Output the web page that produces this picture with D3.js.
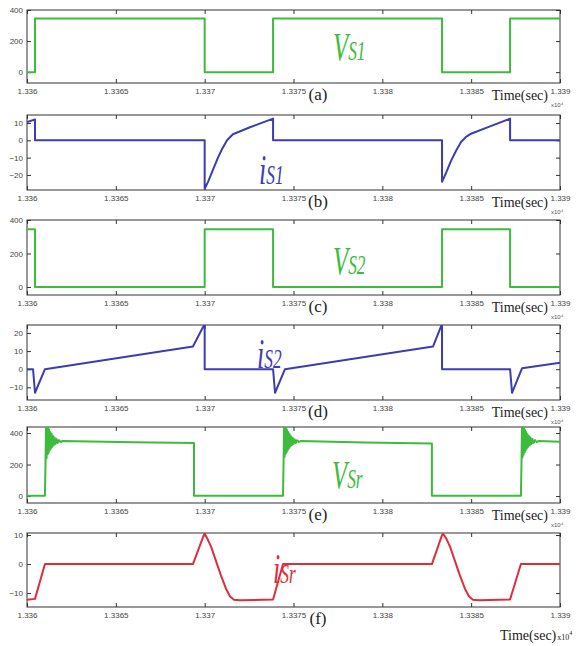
<!DOCTYPE html>
<html>
<head>
<meta charset="utf-8">
<script src="https://d3js.org/d3.v7.min.js"></script>
<style>
  body { margin: 0; background: #fff; }
  .tick text { font-family: "Liberation Sans Narrow", "Liberation Sans", sans-serif; font-size: 8px; fill: #444; }
  .tick line { stroke: #333; }
</style>
</head>
<body>
<script>
// tiempos en segundos, valores en V o A
var xTicks = [1.336, 1.3365, 1.337, 1.3375, 1.338, 1.3385, 1.339]
var xTickLabels = ["1.336", "1.3365", "1.337", "1.3375", "1.338", "1.3385", "1.339"]

var vs1 = [[1.336,0],[1.336045,0],[1.336045,345],[1.337,345],[1.337,0],[1.337385,0],[1.337385,345],
  [1.338336,345],[1.338336,0],[1.338719,0],[1.338719,345],[1.339,345]]

var is1 = [[1.336,10.5],[1.336045,12],[1.336045,0],[1.337,0],[1.337,-28],[1.337019,-24],[1.337047,-17],
  [1.337075,-10],[1.337098,-5],[1.337126,0],[1.337159,3.5],[1.337255,7.5],[1.337385,12.5],[1.337385,0],
  [1.338336,0],[1.338336,-24],[1.338358,-19],[1.338386,-12],[1.338415,-6],[1.338443,-1],[1.338471,2],
  [1.338499,3.8],[1.338606,8],[1.338719,12.5],[1.338719,0],[1.339,0]]

var vs2 = [[1.336,345],[1.336045,345],[1.336045,0],[1.337,0],[1.337,345],[1.337385,345],[1.337385,0],
  [1.338336,0],[1.338336,345],[1.338719,345],[1.338719,0],[1.339,0]]

var is2 = [[1.336,0],[1.336034,0],[1.336045,-13],[1.336101,0],[1.336934,12.5],[1.337,25],[1.337,0],
  [1.337385,0],[1.337396,-13],[1.337452,0],[1.338285,12.5],[1.338336,25],[1.338336,0],[1.338719,0],
  [1.33873,-13],[1.338786,0.5],[1.339,3.5]]

var vsr = [[1.336,2],[1.336101,2],
  [1.336104,200],[1.336107,440],[1.33611,240],[1.336113,440],[1.336116,265],[1.336119,435],[1.336122,275],
  [1.336125,420],[1.336128,290],[1.336131,405],[1.336134,300],[1.336138,395],[1.336142,312],[1.336146,382],
  [1.33615,322],[1.336155,372],[1.33616,330],[1.336166,362],[1.336172,336],[1.33618,355],[1.33619,342],
  [1.3362,350],[1.3366,342],[1.33694,336],[1.33694,2],[1.337441,2],
  [1.337444,210],[1.337447,440],[1.33745,250],[1.337453,438],[1.337456,268],[1.337459,430],[1.337462,280],
  [1.337465,418],[1.337468,292],[1.337471,404],[1.337474,303],[1.337478,392],[1.337482,314],[1.337486,380],
  [1.33749,323],[1.337495,370],[1.3375,331],[1.337506,361],[1.337512,337],[1.33752,354],[1.33753,343],
  [1.33754,349],[1.3379,340],[1.338279,334],[1.338279,2],[1.33878,2],
  [1.338783,190],[1.338786,438],[1.338789,245],[1.338792,440],[1.338795,262],[1.338798,432],[1.338801,278],
  [1.338804,418],[1.338807,290],[1.33881,404],[1.338813,302],[1.338817,392],[1.338821,313],[1.338825,381],
  [1.338829,322],[1.338834,371],[1.338839,330],[1.338845,362],[1.338851,336],[1.338859,355],[1.338869,342],
  [1.338879,349],[1.339,345]]

var isr = [[1.336,-12.3],[1.336045,-12],[1.336101,0],[1.336934,0],[1.336994,9.8],[1.337,10.5],
  [1.337013,9],[1.337036,6],[1.337064,1],[1.337092,-4],[1.33712,-8.5],[1.337143,-11.2],[1.337165,-12.3],
  [1.337199,-12.5],[1.337385,-12.2],[1.337441,0],[1.338279,0],[1.338335,9.8],[1.338341,10.5],
  [1.338358,9],[1.338381,6],[1.338409,1],[1.338437,-4],[1.338465,-8.5],[1.338488,-11.2],[1.33851,-12.3],
  [1.338544,-12.5],[1.338719,-12.2],[1.33878,0],[1.339,0]]

var verde = "#3dbb3d", azul = "#3c3cb4", rojo = "#dd2e3c"

var paneles = [
  {datos: vs1, color: verde, top: 10, bottom: 83, dom: [-70, 400], yt: [0, 200, 400],
   letra: "(a)", nom: "V", sub: "S1", nx: 333, ny: 60},
  {datos: is1, color: azul, top: 115, bottom: 190, dom: [-28.7, 14.6], yt: [-20, -10, 0, 10],
   letra: "(b)", nom: "i", sub: "S1", nx: 259, ny: 184},
  {datos: vs2, color: verde, top: 220, bottom: 295, dom: [-48, 400], yt: [0, 200, 400],
   letra: "(c)", nom: "V", sub: "S2", nx: 333, ny: 274},
  {datos: is2, color: azul, top: 325, bottom: 400, dom: [-17, 24.4], yt: [-10, 0, 10, 20],
   letra: "(d)", nom: "i", sub: "S2", nx: 257, ny: 368},
  {datos: vsr, color: verde, top: 427, bottom: 503, dom: [-44, 438], yt: [0, 200, 400],
   letra: "(e)", nom: "V", sub: "Sr", nx: 332, ny: 488},
  {datos: isr, color: rojo, top: 533, bottom: 607, dom: [-14.8, 10.7], yt: [-10, 0, 10],
   letra: "(f)", nom: "i", sub: "Sr", nx: 273, ny: 583}
]

var ancho = 578, alto = 646
var svg = d3.select("body").append("svg")
    .attr("width", ancho)
    .attr("height", alto)

var x = d3.scaleLinear().domain([1.336, 1.339]).range([27, 560])

paneles.forEach(function (p, i) {
    var y = d3.scaleLinear().domain(p.dom).range([p.bottom, p.top])
    var g = svg.append("g")

    g.append("clipPath").attr("id", "clip" + i)
      .append("rect")
        .attr("x", x.range()[0]).attr("y", p.top)
        .attr("width", x.range()[1] - x.range()[0]).attr("height", p.bottom - p.top)

    // ejes con marcas hacia dentro, estilo matlab
    g.append("g")
        .attr("transform", "translate(0," + p.bottom + ")")
        .call(d3.axisBottom(x).tickValues(xTicks).tickSize(-4).tickPadding(5)
            .tickFormat(function (d, k) { return xTickLabels[k] }))
    g.append("g")
        .attr("transform", "translate(0," + p.top + ")")
        .call(d3.axisTop(x).tickValues(xTicks).tickSize(-4).tickFormat(""))
    g.append("g")
        .attr("transform", "translate(" + x.range()[0] + ",0)")
        .call(d3.axisLeft(y).tickValues(p.yt).tickSize(-4).tickPadding(4))
    g.append("g")
        .attr("transform", "translate(" + x.range()[1] + ",0)")
        .call(d3.axisRight(y).tickValues(p.yt).tickSize(-4).tickFormat(""))
    g.selectAll(".domain").remove()

    g.append("rect")
        .attr("x", x.range()[0]).attr("y", p.top)
        .attr("width", x.range()[1] - x.range()[0]).attr("height", p.bottom - p.top)
        .attr("fill", "none").attr("stroke", "#333").attr("stroke-width", 1)

    var linea = d3.line()
        .x(function (d) { return x(d[0]) })
        .y(function (d) { return y(d[1]) })

    g.append("path")
        .datum(p.datos)
        .attr("clip-path", "url(#clip" + i + ")")
        .attr("fill", "none")
        .attr("stroke", p.color)
        .attr("stroke-width", 2)
        .attr("stroke-linejoin", "round")
        .attr("d", linea)

    // nombre de la señal
    var t = g.append("text")
        .attr("transform", "translate(" + p.nx + "," + p.ny + ") scale(0.62,1)")
        .attr("font-family", "Liberation Serif, serif")
        .attr("font-style", "italic")
        .attr("fill", p.color)
    t.append("tspan").attr("font-size", p.nom == "i" ? 42 : 40).text(p.nom)
    t.append("tspan").attr("font-size", 28).text(p.sub)

    g.append("text")
        .attr("x", 318).attr("y", p.bottom + 17)
        .attr("text-anchor", "middle")
        .attr("font-family", "Liberation Serif, serif")
        .attr("font-size", 17)
        .attr("fill", "#222")
        .text(p.letra)

    if (i < 5) {
        g.append("text")
            .attr("x", 548).attr("y", p.bottom + 17)
            .attr("text-anchor", "end")
            .attr("font-family", "Liberation Serif, serif")
            .attr("font-size", 14)
            .attr("fill", "#222")
            .text("Time(sec)")
        g.append("text")
            .attr("x", 551).attr("y", p.bottom + 24)
            .attr("font-family", "Liberation Sans, sans-serif")
            .attr("font-size", 6)
            .attr("fill", "#555")
            .text("x10⁴")
    } else {
        var tt = g.append("text")
            .attr("x", 500).attr("y", 640)
            .attr("font-family", "Liberation Serif, serif")
            .attr("font-size", 14)
            .attr("fill", "#222")
        tt.append("tspan").text("Time(sec)")
        tt.append("tspan").attr("font-size", 8).attr("dx", 1).text("x10")
        tt.append("tspan").attr("font-size", 6).attr("dy", -5).text("4")
    }
})
</script>
</body>
</html>
